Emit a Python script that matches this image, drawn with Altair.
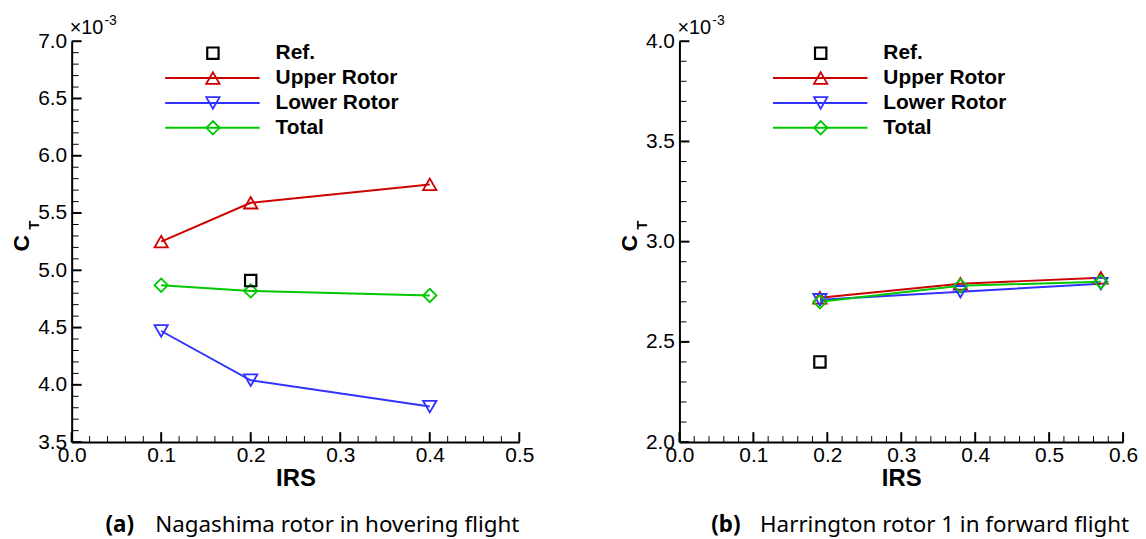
import altair as alt
import pandas as pd

# ---------------- data (C_T values in units of 1e-3) ----------------
a_irs = [0.1, 0.2, 0.4]
a_upper = [5.25, 5.59, 5.75]
a_lower = [4.47, 4.04, 3.81]
a_total = [4.87, 4.82, 4.78]
a_ref_irs = [0.2]
a_ref = [4.91]

b_irs = [0.19, 0.38, 0.57]
b_upper = [2.72, 2.79, 2.82]
b_lower = [2.71, 2.75, 2.79]
b_total = [2.70, 2.78, 2.80]
b_ref_irs = [0.19]
b_ref = [2.40]

a_xticks = [0.0, 0.1, 0.2, 0.3, 0.4, 0.5]
a_yticks = [3.5, 4.0, 4.5, 5.0, 5.5, 6.0, 6.5, 7.0]
b_xticks = [0.0, 0.1, 0.2, 0.3, 0.4, 0.5, 0.6]
b_yticks = [2.0, 2.5, 3.0, 3.5, 4.0]

series_names = ["Upper Rotor", "Lower Rotor", "Total"]
series_colors = ["#cc0000", "#3232ff", "#00c800"]
series_shapes = ["triangle-up", "triangle-down", "diamond"]
legend_names = ["Ref.", "Upper Rotor", "Lower Rotor", "Total"]

LABEL_FONT = "Liberation Sans"
CAP_FONT = "Noto Sans"
H = 403


def minor_ticks(major, step):
    lo, hi = major[0], major[-1]
    n = int(round((hi - lo) / step))
    vals = [round(lo + i * step, 4) for i in range(n + 1)]
    majors = set(round(v, 4) for v in major)
    return [v for v in vals if v not in majors]


def panel(irs, upper, lower, total, ref_irs, ref, xticks, yticks, xminor_step,
          tag, caption, W, cap_tag_x, cap_x):
    xdom = [xticks[0], xticks[-1]]
    ydom = [yticks[0], yticks[-1]]
    xs = alt.Scale(domain=xdom, nice=False, zero=False)
    ys = alt.Scale(domain=ydom, nice=False, zero=False)
    cscale = alt.Scale(domain=series_names, range=series_colors)
    sscale = alt.Scale(domain=series_names, range=series_shapes)

    rows = []
    for name, vals in zip(series_names, [upper, lower, total]):
        for xv, yv in zip(irs, vals):
            rows.append({"IRS": xv, "CT": yv, "series": name})
    df = pd.DataFrame(rows)
    ref_df = pd.DataFrame({"IRS": ref_irs, "CT": ref})

    xaxis = alt.Axis(values=xticks, format=".1f", ticks=False, tickSize=0, grid=False,
                     domainColor="black", domainWidth=2, labelFont=LABEL_FONT,
                     labelFontSize=21, labelColor="black", labelPadding=3,
                     labelFlush=False, labelOverlap=False, title="IRS",
                     titleFont=LABEL_FONT, titleFontSize=24, titleFontWeight="bold",
                     titleColor="black", titlePadding=1)
    yaxis = alt.Axis(values=yticks, format=".1f", ticks=False, tickSize=0, grid=False,
                     domainColor="black", domainWidth=2, labelFont=LABEL_FONT,
                     labelFontSize=21, labelColor="black", labelPadding=5,
                     labelFlush=False, labelOverlap=False, title=None)

    base = alt.Chart(df)
    lines = base.mark_line(strokeWidth=2).encode(
        x=alt.X("IRS:Q", scale=xs, axis=xaxis),
        y=alt.Y("CT:Q", scale=ys, axis=yaxis),
        color=alt.Color("series:N", scale=cscale, legend=None),
        detail="series:N",
    )
    pts = base.mark_point(filled=False, size=180, strokeWidth=1.8, opacity=1).encode(
        x=alt.X("IRS:Q", scale=xs),
        y=alt.Y("CT:Q", scale=ys),
        color=alt.Color("series:N", scale=cscale, legend=None),
        shape=alt.Shape("series:N", scale=sscale, legend=None),
    )
    refp = alt.Chart(ref_df).mark_point(shape="square", filled=False, size=130,
                                         strokeWidth=2.2, color="black", opacity=1).encode(
        x=alt.X("IRS:Q", scale=xs),
        y=alt.Y("CT:Q", scale=ys),
    )

    # inward tick marks
    xmaj = pd.DataFrame({"t": xticks})
    xmin = pd.DataFrame({"t": minor_ticks(xticks, xminor_step)})
    ymaj = pd.DataFrame({"t": yticks})
    ymin = pd.DataFrame({"t": minor_ticks(yticks, 0.1)})
    tx_major = alt.Chart(xmaj).mark_rule(color="black", strokeWidth=2).encode(
        x=alt.X("t:Q", scale=xs), y=alt.value(H), y2=alt.value(H - 10))
    tx_minor = alt.Chart(xmin).mark_rule(color="black", strokeWidth=1).encode(
        x=alt.X("t:Q", scale=xs), y=alt.value(H), y2=alt.value(H - 6))
    ty_major = alt.Chart(ymaj).mark_rule(color="black", strokeWidth=2).encode(
        y=alt.Y("t:Q", scale=ys), x=alt.value(0), x2=alt.value(10))
    ty_minor = alt.Chart(ymin).mark_rule(color="black", strokeWidth=1).encode(
        y=alt.Y("t:Q", scale=ys), x=alt.value(0), x2=alt.value(7))

    one = pd.DataFrame({"d": [0]})
    extra = [
        alt.Chart(one).mark_text(text="\u00d710", font=LABEL_FONT, fontSize=20,
                                 align="left", baseline="alphabetic", color="black").encode(
            x=alt.value(-2), y=alt.value(-7)),
        alt.Chart(one).mark_text(text="-3", font=LABEL_FONT, fontSize=14,
                                 align="left", baseline="alphabetic", color="black").encode(
            x=alt.value(33), y=alt.value(-16)),
        alt.Chart(one).mark_text(text="C", font=LABEL_FONT, fontSize=23, fontWeight="bold",
                                 angle=270, align="center", baseline="middle", color="black").encode(
            x=alt.value(-50), y=alt.value(203)),
        alt.Chart(one).mark_text(text="T", font=LABEL_FONT, fontSize=15, fontWeight="bold",
                                 angle=270, align="center", baseline="middle", color="black").encode(
            x=alt.value(-38), y=alt.value(185)),
        alt.Chart(one).mark_text(text=tag, font=CAP_FONT, fontSize=22.5, fontWeight="bold",
                                 align="left", baseline="alphabetic", color="black").encode(
            x=alt.value(cap_tag_x), y=alt.value(493)),
        alt.Chart(one).mark_text(text=caption, font=CAP_FONT, fontSize=22.5,
                                 align="left", baseline="alphabetic", color="black").encode(
            x=alt.value(cap_x), y=alt.value(493)),
    ]

    # manual legend
    leg = []
    for i, name in enumerate(legend_names):
        yy = 12 + 25 * i
        ldf = pd.DataFrame({"label": [name]})
        if name == "Ref.":
            leg.append(alt.Chart(ldf).mark_point(shape="square", filled=False, size=130,
                                                 strokeWidth=2.2, color="black", opacity=1).encode(
                x=alt.value(142), y=alt.value(yy)))
        else:
            k = series_names.index(name)
            leg.append(alt.Chart(ldf).mark_rule(color=series_colors[k], strokeWidth=2).encode(
                x=alt.value(94), x2=alt.value(189), y=alt.value(yy)))
            leg.append(alt.Chart(ldf).mark_point(shape=series_shapes[k], filled=False, size=180,
                                                 strokeWidth=1.8, color=series_colors[k],
                                                 opacity=1).encode(
                x=alt.value(142), y=alt.value(yy)))
        leg.append(alt.Chart(ldf).mark_text(font=LABEL_FONT, fontSize=21, fontWeight="bold",
                                            align="left", baseline="middle", color="black").encode(
            x=alt.value(205), y=alt.value(yy), text="label:N"))

    return alt.layer(lines, pts, refp, tx_major, tx_minor, ty_major, ty_minor,
                     *extra, *leg).properties(width=W, height=H)


left = panel(a_irs, a_upper, a_lower, a_total, a_ref_irs, a_ref, a_xticks, a_yticks, 0.02,
             "(a)", "Nagashima rotor in hovering flight", 450, 34, 84)
right = panel(b_irs, b_upper, b_lower, b_total, b_ref_irs, b_ref, b_xticks, b_yticks, 0.02,
              "(b)", "Harrington rotor 1 in forward flight", 446, 32, 81)

chart = alt.hconcat(left, right, spacing=161).resolve_scale(
    x="independent", y="independent"
).properties(
    bounds="flush",
    padding={"left": 3, "top": 5, "right": 0, "bottom": 0},
    background="white",
).configure_view(stroke=None)

chart.save("out.html", embed_options={"renderer": "svg", "actions": False})
